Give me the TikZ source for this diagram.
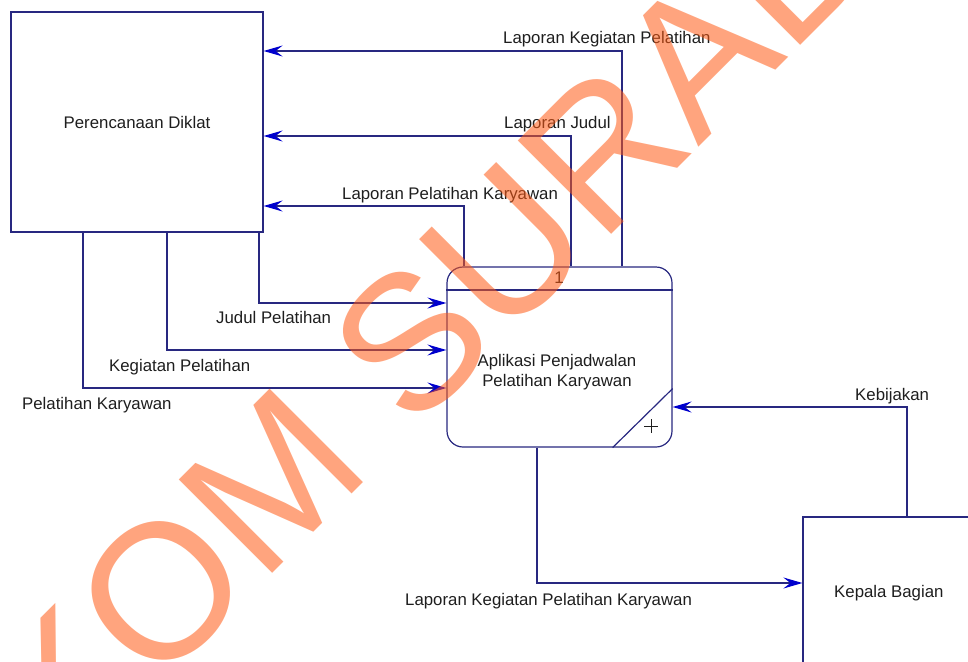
\documentclass[tikz,border=0pt]{standalone}
\usepackage{fontspec}
\setmainfont{Liberation Sans}
\usetikzlibrary{arrows.meta}
\definecolor{dfdline}{RGB}{40,40,128}
\definecolor{dfdtip}{RGB}{0,0,205}
\definecolor{dfdtext}{RGB}{30,30,30}
\definecolor{wmark}{RGB}{255,90,20}
\begin{document}
\begin{tikzpicture}[x=1pt,y=-1pt,>={Stealth[length=19pt,width=11pt,inset=7pt,color=dfdtip]},
  box/.style={draw=dfdline,line width=1.2pt,inner sep=0pt},
  flow/.style={draw=dfdline,line width=1.2pt,->},
  lbl/.style={text=dfdtext,inner sep=0pt,font=\fontsize{16.8}{20}\selectfont}]
\useasboundingbox (0,0) rectangle (968,661);
\clip (0,0) rectangle (968,661);

\node[box,lbl,minimum width=252pt,minimum height=220pt] (diklat) at (137,122) {Perencanaan Diklat};
\node[box,rounded corners=16pt,minimum width=225pt,minimum height=180pt] (apj) at (559.5,357) {};
\node[box,minimum width=170pt,minimum height=150pt] (kb) at (888,592) {};

\coordinate (hdr) at (0,290);
\coordinate (lkp) at (622,51);
\coordinate (lj) at (571,136);
\coordinate (lpk) at (464,206);
\coordinate (jp) at (259,303);
\coordinate (kp) at (167,350);
\coordinate (pk) at (83,388);
\coordinate (kbj) at (907,407);
\coordinate (lkpk) at (537,583);

\draw[dfdline,line width=1.2pt] (apj.west |- hdr) -- (apj.east |- hdr);
\draw[dfdline,line width=1.2pt] ([yshift=59pt]apj.south east) -- ([xshift=-60pt]apj.south east);
\draw[dfdtext,line width=.8pt] (651,426) +(-7,0) -- +(7,0) +(0,-7) -- +(0,7);
\node[lbl,anchor=base] (nr) at (559,283) {1};
\node[lbl,align=center] (tapj) at (557,371.7) {Aplikasi Penjadwalan\\Pelatihan Karyawan};
\node[lbl,anchor=base west] (tkb) at (834,597) {Kepala Bagian};

\foreach \c in {lkp,lj,lpk}
{
   \draw[flow] (apj.north -| \c) |- (diklat.east |- \c);
}
\foreach \c in {jp,kp,pk}
{
   \draw[flow] (diklat.south -| \c) |- (apj.west |- \c);
}
\draw[flow] (kb.north -| kbj) |- (apj.east |- kbj);
\draw[flow] (apj.south -| lkpk) |- (kb.west |- lkpk);

\node[lbl,anchor=base west] (tlkp) at (503,43.5) {Laporan Kegiatan Pelatihan};
\node[lbl,anchor=base west] (tlj) at (504,128) {Laporan Judul};
\node[lbl,anchor=base west] (tlpk) at (342,199) {Laporan Pelatihan Karyawan};
\node[lbl,anchor=base west] (tjp) at (216,323) {Judul Pelatihan};
\node[lbl,anchor=base west] (tkp) at (109,371) {Kegiatan Pelatihan};
\node[lbl,anchor=base west] (tpk) at (22,409) {Pelatihan Karyawan};
\node[lbl,anchor=base west] (tkbj) at (855,400) {Kebijakan};
\node[lbl,anchor=base west] (tlkpk) at (405,605) {Laporan Kegiatan Pelatihan Karyawan};

\node[anchor=base west,rotate=45,inner sep=0pt,text=wmark,text opacity=.55,
  font=\fontsize{192}{200}\selectfont] (wm) at (-146,992) {STIKOM SURABAYA};
\end{tikzpicture}
\end{document}
